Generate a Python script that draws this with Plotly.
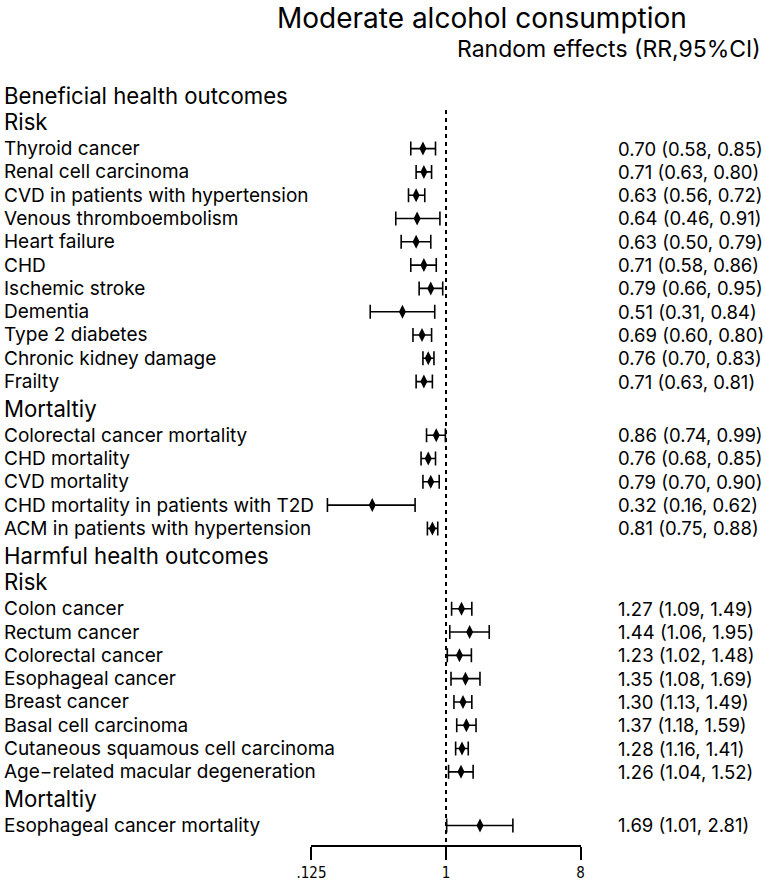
import plotly.graph_objects as go
import math

# beneficial outcomes - risk
ben_risk_labels = ["Thyroid cancer", "Renal cell carcinoma", "CVD in patients with hypertension",
                   "Venous thromboembolism", "Heart failure", "CHD", "Ischemic stroke", "Dementia",
                   "Type 2 diabetes", "Chronic kidney damage", "Frailty"]
ben_risk_rr = [0.70, 0.71, 0.63, 0.64, 0.63, 0.71, 0.79, 0.51, 0.69, 0.76, 0.71]
ben_risk_lo = [0.58, 0.63, 0.56, 0.46, 0.50, 0.58, 0.66, 0.31, 0.60, 0.70, 0.63]
ben_risk_hi = [0.85, 0.80, 0.72, 0.91, 0.79, 0.86, 0.95, 0.84, 0.80, 0.83, 0.81]

# beneficial outcomes - mortality
ben_mort_labels = ["Colorectal cancer mortality", "CHD mortality", "CVD mortality",
                   "CHD mortality in patients with T2D", "ACM in patients with hypertension"]
ben_mort_rr = [0.86, 0.76, 0.79, 0.32, 0.81]
ben_mort_lo = [0.74, 0.68, 0.70, 0.16, 0.75]
ben_mort_hi = [0.99, 0.85, 0.90, 0.62, 0.88]

# harmful outcomes - risk
harm_risk_labels = ["Colon cancer", "Rectum cancer", "Colorectal cancer", "Esophageal cancer",
                    "Breast cancer", "Basal cell carcinoma", "Cutaneous squamous cell carcinoma",
                    "Age\u2212related macular degeneration"]
harm_risk_rr = [1.27, 1.44, 1.23, 1.35, 1.30, 1.37, 1.28, 1.26]
harm_risk_lo = [1.09, 1.06, 1.02, 1.08, 1.13, 1.18, 1.16, 1.04]
harm_risk_hi = [1.49, 1.95, 1.48, 1.69, 1.49, 1.59, 1.41, 1.52]

# harmful outcomes - mortality
harm_mort_labels = ["Esophageal cancer mortality"]
harm_mort_rr = [1.69]
harm_mort_lo = [1.01]
harm_mort_hi = [2.81]

tick_vals = [0.125, 1, 8]
tick_text = [".125", "1", "8"]

sections = [
    ("Beneficial health outcomes", [
        ("Risk", ben_risk_labels, ben_risk_rr, ben_risk_lo, ben_risk_hi),
        ("Mortaltiy", ben_mort_labels, ben_mort_rr, ben_mort_lo, ben_mort_hi),
    ]),
    ("Harmful health outcomes", [
        ("Risk", harm_risk_labels, harm_risk_rr, harm_risk_lo, harm_risk_hi),
        ("Mortaltiy", harm_mort_labels, harm_mort_rr, harm_mort_lo, harm_mort_hi),
    ]),
]

FONT = "Inter"
HGAP = 1.15
W = 765.0
LABEL_X = -11 / W
NUM_X = 618 / W

headers = []  # (y, text)
ys, rr, lo, hi, labels = [], [], [], [], []
pos = None
for title, subs in sections:
    pos = 0 if pos is None else pos + HGAP
    headers.append((pos, title))
    for sub, labs, r, l, h in subs:
        pos += HGAP
        headers.append((pos, sub))
        pos += HGAP - 1
        for i in range(len(labs)):
            pos += 1
            ys.append(pos)
            labels.append(labs[i])
            rr.append(r[i])
            lo.append(l[i])
            hi.append(h[i])

fig = go.Figure()
fig.add_trace(go.Scatter(
    x=rr, y=ys, mode="markers",
    marker=dict(symbol="diamond-tall", size=10, color="black"),
    error_x=dict(type="data", symmetric=False,
                 array=[h - r for h, r in zip(hi, rr)],
                 arrayminus=[r - l for r, l in zip(rr, lo)],
                 color="black", thickness=1.6, width=7),
    showlegend=False, hoverinfo="skip",
))

y_top = -95 / 23.3
y_bot = (845 - 95) / 23.3

fig.add_shape(type="line", xref="x", yref="y", x0=1, x1=1, y0=0.64, y1=y_bot,
              line=dict(color="black", width=2, dash="4px,4px"))


def txt(x, y, t, size, anchor="left"):
    return dict(x=x, y=y, xref="paper", yref="y", text=t, showarrow=False, align=anchor,
                xanchor=anchor, yanchor="middle", borderpad=0, borderwidth=0,
                font=dict(size=size, family=FONT, color="black"))


ann = []
for y, t in headers:
    ann.append(txt(LABEL_X, y, t, 22.2))
for y, t, r, l, h in zip(ys, labels, rr, lo, hi):
    ann.append(txt(LABEL_X, y, t, 19))
    ann.append(txt(NUM_X, y, f"{r:.2f} ({l:.2f}, {h:.2f})", 18.5))
ann.append(txt(479 / W, (17.5 - 95) / 23.3, "Moderate alcohol consumption", 28, "center"))
ann.append(txt(1.0, (48.5 - 95) / 23.3, "Random effects (RR,95%CI)", 23, "right"))

fig.update_layout(
    width=765, height=882,
    margin=dict(l=0, r=0, t=0, b=37),
    plot_bgcolor="white", paper_bgcolor="white",
    annotations=ann,
    xaxis=dict(type="log", domain=[304 / W, 580 / W],
               range=[math.log10(0.125), math.log10(8)],
               tickvals=tick_vals, ticktext=tick_text,
               showline=True, linecolor="black", linewidth=1.6,
               ticks="outside", ticklen=13, tickwidth=1.6, tickcolor="black",
               tickfont=dict(size=15, family="DejaVu Sans Condensed, sans-serif", color="black"),
               showgrid=False, zeroline=False),
    yaxis=dict(range=[y_bot, y_top], visible=False, showgrid=False, zeroline=False),
)

fig.write_html("out.html", config={"displayModeBar": False},
               post_script="document.body.style.margin='0';document.body.style.overflow='hidden';")
